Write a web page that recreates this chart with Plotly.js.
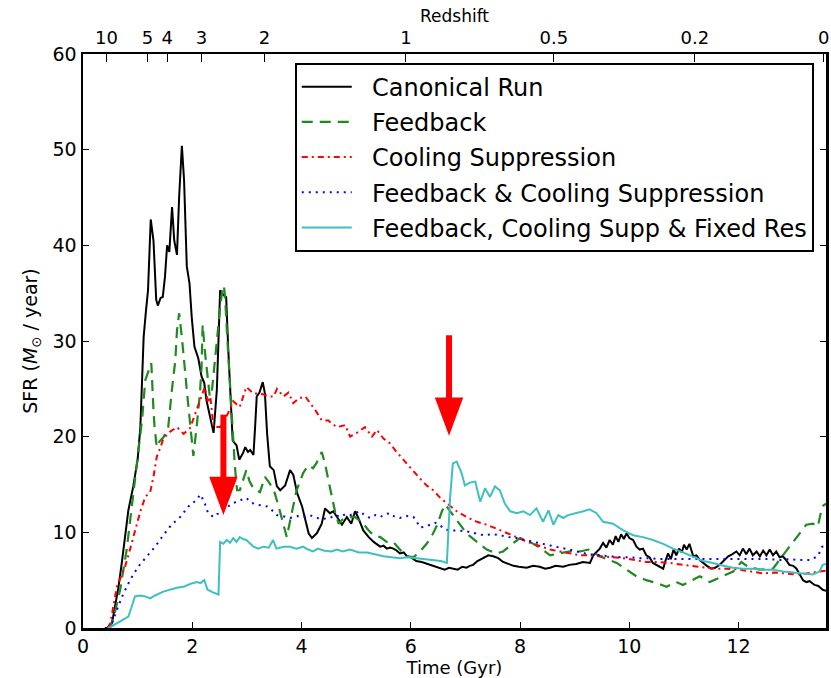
<!DOCTYPE html>
<html>
<head>
<meta charset="utf-8">
<script src="https://cdn.plot.ly/plotly-3.0.1.min.js"></script>
<style>html,body{margin:0;padding:0;background:#fff}#chart{width:831px;height:678px}</style>
</head>
<body>
<div id="chart"></div>
<script>
// ---- Data ----
const seriesNames = ["Canonical Run", "Feedback", "Cooling Suppression", "Feedback & Cooling Suppression", "Feedback, Cooling Supp & Fixed Res"];

const canonicalT = [0.40,0.45,0.53,0.59,0.65,0.71,0.77,0.83,0.92,0.97,1.00,1.05,1.09,1.11,1.15,1.19,1.24,1.29,1.34,1.37,1.42,1.46,1.50,1.54,1.58,1.63,1.67,1.72,1.76,1.81,1.85,1.90,1.95,1.99,2.04,2.11,2.17,2.22,2.26,2.32,2.39,2.45,2.51,2.57,2.62,2.66,2.69,2.74,2.78,2.81,2.86,2.90,2.93,2.97,3.02,3.06,3.12,3.15,3.18,3.23,3.29,3.33,3.37,3.42,3.49,3.55,3.61,3.70,3.79,3.85,3.92,4.01,4.07,4.13,4.19,4.28,4.37,4.43,4.52,4.58,4.65,4.74,4.83,4.91,4.98,5.04,5.13,5.23,5.32,5.44,5.50,5.56,5.62,5.68,5.74,5.80,5.87,5.93,6.00,6.10,6.20,6.30,6.40,6.54,6.62,6.70,6.78,6.86,6.94,7.02,7.08,7.14,7.22,7.33,7.42,7.51,7.60,7.69,7.78,7.88,7.98,8.12,8.24,8.36,8.46,8.55,8.65,8.79,8.90,9.03,9.15,9.28,9.34,9.40,9.46,9.52,9.58,9.64,9.70,9.75,9.80,9.85,9.90,9.95,10.00,10.07,10.13,10.19,10.25,10.31,10.37,10.43,10.50,10.56,10.62,10.66,10.71,10.76,10.81,10.86,10.91,10.96,11.00,11.05,11.10,11.17,11.23,11.29,11.35,11.42,11.50,11.57,11.65,11.73,11.81,11.88,11.96,12.02,12.08,12.14,12.20,12.26,12.33,12.39,12.45,12.51,12.57,12.63,12.69,12.75,12.81,12.87,12.93,13.00,13.06,13.12,13.18,13.24,13.30,13.39,13.46,13.54,13.60];
const canonicalSFR = [0,0,0.5,2.2,4.3,6.8,9.9,12.3,14.8,16.5,17.6,21.0,28.0,30.4,33.0,35.3,42.7,40.5,34.3,33.7,34.5,34.6,36.7,40.0,39.3,44.0,40.5,39.0,45.1,50.4,46.8,37.8,36.0,32.5,29.4,28.2,26.3,25.6,23.8,22.1,20.4,24.9,35.3,34.8,34.6,29.0,24.9,19.6,19.3,19.1,17.6,18.0,18.3,18.9,18.4,18.6,18.1,21.0,24.2,24.6,25.7,24.5,20.3,16.9,16.5,14.8,14.4,14.9,16.5,16.0,14.1,12.7,11.3,9.9,9.4,9.9,10.9,12.5,12.0,12.2,11.6,10.8,11.6,10.9,12.2,11.5,10.2,9.5,9.0,8.5,8.6,8.3,8.4,8.3,8.1,7.8,7.9,7.5,7.4,7.0,6.9,6.7,6.5,6.3,6.1,6.3,6.2,6.1,6.4,6.3,6.5,6.6,7.0,7.3,7.6,7.5,7.3,6.9,6.7,6.5,6.4,6.3,6.5,6.4,6.2,6.3,6.5,6.4,6.6,6.7,6.9,6.8,7.6,7.9,8.3,8.9,8.4,9.2,8.7,9.6,9.0,9.8,9.3,9.9,9.4,9.2,8.5,8.2,8.3,7.6,7.4,6.8,6.6,6.4,6.2,7.0,7.8,7.2,8.2,7.6,8.3,7.9,8.7,8.2,8.8,7.5,7.6,7.1,6.8,6.5,6.2,6.3,6.6,7.0,7.5,7.7,8.0,7.6,8.3,7.7,8.3,7.6,8.0,7.5,8.1,7.6,8.2,7.6,8.0,7.4,7.5,7.1,6.6,6.5,6.2,5.6,5.0,4.8,4.9,4.5,4.4,4.0,3.9];

const feedbackT = [0.45,0.50,0.59,0.68,0.80,0.92,1.01,1.08,1.14,1.20,1.25,1.29,1.31,1.35,1.40,1.47,1.56,1.62,1.69,1.72,1.76,1.81,1.84,1.90,1.96,2.02,2.08,2.14,2.17,2.19,2.23,2.28,2.32,2.36,2.40,2.45,2.50,2.55,2.58,2.60,2.64,2.69,2.74,2.78,2.82,2.87,2.93,2.99,3.05,3.12,3.24,3.33,3.42,3.51,3.60,3.67,3.73,3.82,3.91,4.03,4.12,4.21,4.27,4.37,4.43,4.49,4.56,4.62,4.68,4.74,4.89,4.98,5.13,5.23,5.32,5.44,5.56,5.68,5.80,5.93,6.05,6.17,6.29,6.40,6.47,6.57,6.63,6.75,6.90,7.02,7.21,7.39,7.57,7.69,7.88,8.00,8.18,8.36,8.55,8.73,8.91,9.10,9.25,9.46,9.64,9.77,9.95,10.13,10.31,10.50,10.68,10.86,10.98,11.17,11.29,11.47,11.72,11.90,12.05,12.17,12.39,12.63,12.81,12.97,13.12,13.24,13.36,13.45,13.53,13.60];
const feedbackSFR = [0,0.1,1.8,4.0,8.2,14.1,18.3,21.7,25.9,27.0,27.7,22.8,21.0,18.9,19.5,19.9,21.0,24.5,28.0,31.1,32.9,30.4,28.3,24.9,21.4,18.0,21.0,24.5,27.3,31.7,29.0,26.3,24.2,24.8,27.5,30.0,33.0,35.3,35.8,34.6,30.4,24.9,20.7,16.9,14.4,14.4,15.5,16.5,15.3,14.6,14.2,15.8,15.1,14.1,12.3,10.9,9.5,12.0,14.4,16.2,17.0,16.7,17.2,18.4,17.2,15.5,13.7,12.0,10.9,11.3,11.6,11.6,10.9,10.2,9.7,9.5,9.0,9.0,8.2,7.5,7.4,8.0,8.8,9.8,10.6,12.2,12.9,12.0,10.9,9.9,9.0,8.2,7.8,8.0,8.9,9.4,9.0,8.4,7.6,7.8,8.0,8.0,8.2,7.5,7.1,6.8,6.1,5.4,5.0,4.7,4.3,4.8,4.5,5.0,5.4,4.8,5.4,5.9,6.9,6.4,6.1,6.2,7.6,8.8,9.9,10.8,10.9,10.6,12.7,13.0];

const coolingT = [0.45,0.50,0.62,0.77,0.86,0.95,1.05,1.14,1.23,1.29,1.35,1.42,1.47,1.59,1.72,1.84,1.96,2.08,2.20,2.23,2.29,2.33,2.39,2.51,2.57,2.66,2.75,2.87,2.99,3.06,3.12,3.25,3.42,3.49,3.55,3.67,3.76,3.85,3.95,4.07,4.15,4.25,4.37,4.49,4.57,4.65,4.80,4.89,5.04,5.16,5.29,5.38,5.50,5.62,5.74,5.86,5.99,6.14,6.29,6.41,6.54,6.70,6.84,7.02,7.21,7.39,7.57,7.76,7.94,8.09,8.24,8.40,8.55,8.73,8.91,9.10,9.28,9.46,9.67,9.89,10.10,10.31,10.52,10.74,10.98,11.23,11.41,11.59,11.80,12.02,12.23,12.45,12.66,12.87,13.05,13.24,13.40,13.54,13.60];
const coolingSFR = [0,0.5,4.3,6.4,8.2,10.2,12.2,13.7,14.2,15.8,17.9,18.9,19.8,20.5,21.0,20.3,20.9,22.8,24.9,25.2,23.5,24.2,21.0,21.0,21.6,22.5,23.7,23.1,25.2,24.8,24.5,24.5,24.2,24.2,25.0,24.2,24.6,23.5,24.0,24.2,23.6,22.8,21.7,21.7,21.3,21.0,21.2,20.0,20.5,21.0,20.0,20.7,19.8,19.3,18.4,17.6,16.7,15.8,14.9,14.4,13.6,12.8,12.2,11.6,11.1,10.8,10.4,9.9,9.5,9.1,8.8,8.5,8.2,8.0,7.8,7.6,7.6,7.5,7.4,7.3,7.1,6.9,6.9,6.8,6.6,6.4,6.3,6.2,6.2,6.1,5.9,5.7,5.8,5.7,5.6,5.7,5.8,5.9,6.0];

const fbCoolT = [0.45,0.53,0.62,0.74,0.86,1.01,1.17,1.32,1.47,1.62,1.78,1.93,2.08,2.14,2.17,2.20,2.23,2.26,2.29,2.34,2.39,2.45,2.51,2.58,2.66,2.73,2.81,2.90,2.99,3.08,3.18,3.28,3.37,3.46,3.55,3.65,3.79,3.92,4.04,4.15,4.28,4.40,4.52,4.62,4.71,4.80,4.89,4.98,5.07,5.17,5.26,5.35,5.44,5.53,5.62,5.71,5.80,5.92,6.05,6.12,6.17,6.26,6.35,6.45,6.54,6.63,6.72,6.87,7.02,7.18,7.33,7.48,7.63,7.79,7.94,8.09,8.24,8.40,8.55,8.73,8.91,9.10,9.28,9.46,9.64,9.83,10.01,10.20,10.38,10.56,10.74,10.92,11.10,11.29,11.47,11.66,11.84,12.02,12.20,12.39,12.57,12.75,12.93,13.12,13.30,13.45,13.53,13.60];
const fbCoolSFR = [0,0.5,1.9,3.6,5.0,6.4,7.5,8.5,9.7,10.8,11.6,12.7,13.4,13.9,13.9,13.2,13.0,12.4,12.0,11.8,11.6,11.9,12.0,12.4,12.7,13.0,13.2,13.4,13.6,13.1,12.9,12.8,12.7,12.3,11.8,11.7,11.5,11.7,11.6,11.8,11.5,11.4,11.5,11.8,11.6,11.9,11.8,12.0,12.2,11.7,11.5,11.8,11.6,11.9,12.0,11.6,11.5,11.7,11.6,11.0,10.5,10.6,10.8,11.0,10.7,10.3,10.2,10.2,10.1,9.9,9.7,9.8,9.7,9.5,9.4,9.2,9.0,8.8,8.6,8.4,8.2,7.9,7.7,7.6,7.5,7.4,7.4,7.3,7.3,7.2,7.2,7.2,7.2,7.2,7.2,7.2,7.2,7.2,7.2,7.2,7.2,7.1,7.2,7.1,7.1,7.5,8.5,8.6];

const fixedResT = [0.45,0.50,0.68,0.83,0.89,0.95,1.05,1.14,1.23,1.32,1.47,1.59,1.72,1.84,1.96,2.08,2.15,2.22,2.28,2.39,2.48,2.51,2.57,2.63,2.69,2.75,2.81,2.87,2.93,2.99,3.05,3.12,3.21,3.30,3.40,3.48,3.54,3.67,3.79,3.91,4.03,4.12,4.21,4.30,4.40,4.55,4.65,4.75,4.89,5.05,5.20,5.35,5.50,5.65,5.80,5.95,6.11,6.26,6.41,6.55,6.66,6.72,6.77,6.84,6.93,6.99,7.08,7.18,7.27,7.36,7.45,7.54,7.63,7.72,7.82,7.94,8.06,8.18,8.30,8.42,8.52,8.61,8.70,8.79,8.88,9.03,9.16,9.27,9.40,9.52,9.70,9.89,10.07,10.25,10.43,10.62,10.80,10.98,11.17,11.35,11.53,11.72,11.90,12.08,12.26,12.45,12.63,12.81,13.00,13.18,13.36,13.48,13.54,13.60];
const fixedResSFR = [0,0.1,0.7,1.2,2.2,3.3,3.4,3.3,3.1,3.4,3.8,4.0,4.2,4.3,4.6,4.8,4.7,5.0,4.0,3.7,3.5,9.0,8.8,9.2,8.9,9.4,9.0,9.5,9.3,9.2,8.9,8.5,8.3,8.5,8.4,9.2,8.3,8.5,8.5,8.3,8.5,8.2,8.0,8.3,8.1,8.0,8.2,8.0,8.2,7.9,7.9,7.7,7.5,7.4,7.3,7.4,7.3,7.2,7.1,7.0,6.8,13.7,17.2,17.4,16.2,14.9,15.2,15.3,13.2,14.6,13.7,14.8,14.4,13.0,12.2,12.0,12.2,11.8,12.5,11.1,12.3,10.8,11.8,11.5,11.8,12.0,12.2,12.4,12.0,11.1,10.9,10.2,9.7,9.5,9.2,8.8,8.3,7.9,7.4,7.0,6.8,6.5,6.3,6.2,6.2,6.1,6.1,5.9,5.8,5.7,5.6,5.9,6.6,6.7];

const xTicks = [0, 2, 4, 6, 8, 10, 12];
const yTicks = [0, 10, 20, 30, 40, 50, 60];
const redshiftTimes = [0.43, 1.18, 1.54, 2.17, 3.32, 5.91, 8.62, 11.2, 13.56];
const redshiftLabels = ["10", "5", "4", "3", "2", "1", "0.5", "0.2", "0"];

// Red arrow annotations (x position, shaft top, tip) in data units
const arrowX = [2.57, 6.70];
const arrowTop = [22.3, 30.6];
const arrowTip = [11.8, 20.1];

// ---- Styles ----
const FONT = "DejaVu Sans, Liberation Sans, sans-serif";
const styles = [
  {color: "#000000", width: 2, dash: "solid"},
  {color: "#1f8a1f", width: 2.2, dash: "11px,7px"},
  {color: "#ff0000", width: 2, dash: "6px,4px,2px,4px"},
  {color: "#0000ff", width: 2, dash: "2px,5px"},
  {color: "#3fbfbf", width: 2, dash: "solid"}
];
const xs = [canonicalT, feedbackT, coolingT, fbCoolT, fixedResT];
const ys = [canonicalSFR, feedbackSFR, coolingSFR, fbCoolSFR, fixedResSFR];

const NB = "\u00a0\u00a0";
const traces = seriesNames.map((n, i) => ({
  type: "scatter", mode: "lines", name: NB + n,
  x: xs[i], y: ys[i],
  legendgroup: "g" + i,
  line: {color: styles[i].color, width: styles[i].width, dash: styles[i].dash}
}));
// helper trace for the top redshift axis
traces.push({type: "scatter", mode: "lines", x: [0, 13.6], y: [null, null], xaxis: "x2", showlegend: false, hoverinfo: "skip"});

const XMAX = 13.6;
const shapes = [];
arrowX.forEach((ax, i) => {
  const headLen = 4.0, shaftHalf = 0.055, headHalf = 0.26;
  const base = arrowTip[i] + headLen;
  shapes.push({type: "rect", xref: "x", yref: "y", x0: ax - shaftHalf, x1: ax + shaftHalf, y0: base - 0.2, y1: arrowTop[i], fillcolor: "#ff0000", line: {width: 0}, layer: "above"});
  shapes.push({type: "path", xref: "x", yref: "y", path: `M ${ax - headHalf} ${base} L ${ax + headHalf} ${base} L ${ax} ${arrowTip[i]} Z`, fillcolor: "#ff0000", line: {width: 0}, layer: "above"});
});

const axisCommon = {
  showgrid: false, zeroline: false, showline: true, linecolor: "#000", linewidth: 2.5,
  ticks: "inside", tickcolor: "#000", tickwidth: 1, ticklen: 6,
  tickfont: {family: FONT, size: 19, color: "#000"}
};

const layout = {
  width: 831, height: 678,
  margin: {l: 83, r: 5, t: 54, b: 50, pad: 0},
  paper_bgcolor: "#fff", plot_bgcolor: "#fff",
  font: {family: FONT, color: "#000"},
  showlegend: true,
  xaxis: Object.assign({}, axisCommon, {
    range: [0, XMAX], tickvals: xTicks, mirror: true,
    title: {text: "Time (Gyr)", font: {family: FONT, size: 18}, standoff: 4}
  }),
  xaxis2: Object.assign({}, axisCommon, {
    overlaying: "x", side: "top", anchor: "y", range: [0, XMAX],
    tickvals: redshiftTimes, ticktext: redshiftLabels, ticklen: 8,
    tickfont: {family: FONT, size: 18, color: "#000"},
    title: {text: "Redshift", font: {family: FONT, size: 17}, standoff: 1}
  }),
  yaxis: Object.assign({}, axisCommon, {
    range: [0, 60], tickvals: yTicks, mirror: "ticks",
    title: {text: "SFR (<i>M</i><sub>⊙</sub> / year)", font: {family: FONT, size: 19}, standoff: 10}
  }),
  legend: {
    x: 0.285, y: 0.985, xanchor: "left", yanchor: "top",
    bgcolor: "#fff", bordercolor: "#000", borderwidth: 2,
    font: {family: FONT, size: 24, color: "#000"},
    itemwidth: 50, traceorder: "grouped", tracegroupgap: 1
  },
  shapes: shapes
};

Plotly.newPlot("chart", traces, layout, {displayModeBar: false, staticPlot: true});
</script>
</body>
</html>
